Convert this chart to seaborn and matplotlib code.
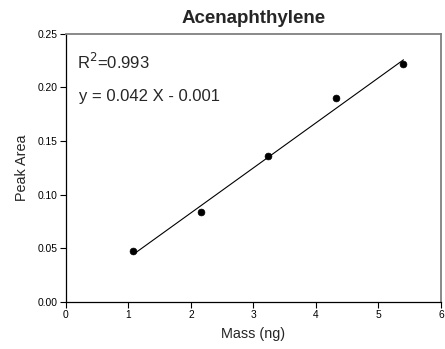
import numpy as np
import pandas as pd
import matplotlib
matplotlib.use("Agg")
import matplotlib.pyplot as plt
import seaborn as sns

# Calibration data
mass_ng = [1.08, 2.16, 3.24, 4.32, 5.40]
peak_area = [0.047, 0.084, 0.136, 0.190, 0.222]

# Linear fit reported on the chart
slope = 0.042
intercept = -0.001
r_squared = 0.993

x_ticks = [0, 1, 2, 3, 4, 5, 6]
y_ticks = [0.00, 0.05, 0.10, 0.15, 0.20, 0.25]

sns.set_theme(style="ticks")
plt.rcParams["font.family"] = ["Liberation Sans", "DejaVu Sans"]

df = pd.DataFrame({"Mass (ng)": mass_ng, "Peak Area": peak_area})
fit_x = np.array([min(mass_ng), max(mass_ng)])
fit_df = pd.DataFrame({"x": fit_x, "y": slope * fit_x + intercept})

fig = plt.figure(figsize=(4.45, 3.49), dpi=100)
ax = fig.add_axes([0.148, 0.135, 0.843, 0.768])

sns.lineplot(data=fit_df, x="x", y="y", ax=ax, color="black", linewidth=0.8)
sns.scatterplot(data=df, x="Mass (ng)", y="Peak Area", ax=ax, color="black",
                s=24, edgecolor="black", linewidth=0.5, zorder=3)

ax.set_xlim(0, 6)
ax.set_ylim(0, 0.25)
ax.set_xticks(x_ticks)
ax.set_xticklabels([str(v) for v in x_ticks])
ax.set_yticks(y_ticks)
ax.set_yticklabels([f"{v:.2f}" for v in y_ticks])
ax.tick_params(axis="both", direction="out", length=4, width=0.8,
               labelsize=7.4, colors="black", pad=2)
for side in ["left", "bottom"]:
    ax.spines[side].set_color("black")
    ax.spines[side].set_linewidth(0.9)
for side in ["top", "right"]:
    ax.spines[side].set_visible(True)
    ax.spines[side].set_color("#808080")
    ax.spines[side].set_linewidth(1.3)

ax.set_xlabel("Mass (ng)", fontsize=10.4, labelpad=5)
ax.set_ylabel("Peak Area", fontsize=10.4, labelpad=6)
ax.set_title("Acenaphthylene", fontsize=13.5, fontweight="bold", pad=8)

ax.text(0.029, 0.896, f"R$^2$={r_squared:.3f}", transform=ax.transAxes,
        fontsize=12, va="center", ha="left")
sign = "-" if intercept < 0 else "+"
ax.text(0.035, 0.765, f"y = {slope:.3f} X {sign} {abs(intercept):.3f}",
        transform=ax.transAxes, fontsize=12, va="center", ha="left")

fig.savefig("out.png", dpi=100)
